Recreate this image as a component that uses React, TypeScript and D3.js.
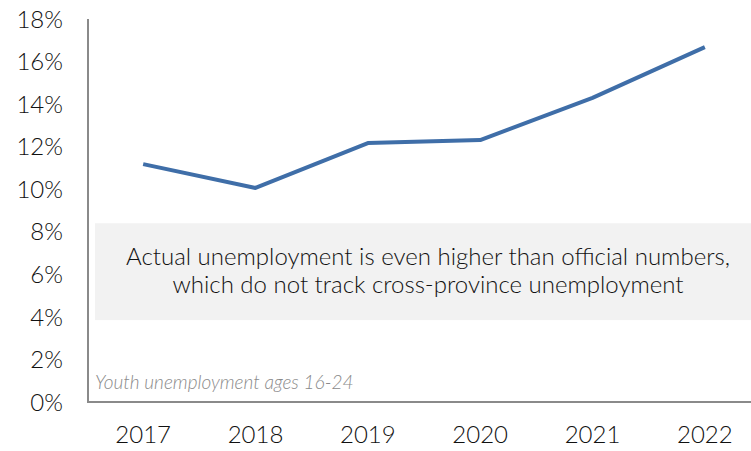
import React from "react";
import * as d3 from "d3";

const years = ["2017", "2018", "2019", "2020", "2021", "2022"];
const youthUnemployment = [11.18, 10.06, 12.17, 12.31, 14.29, 16.68];
const yTicks = [0, 2, 4, 6, 8, 10, 12, 14, 16, 18];
const noteLines = [
  "Actual unemployment is even higher than official numbers,",
  "which do not track cross-province unemployment",
];
const footnote = "Youth unemployment ages 16-24";

const W = 751;
const H = 451;
const FONT = "Lato, 'Open Sans', sans-serif";

export default function App() {
  const x = d3.scaleBand<string>().domain(years).range([87, 761]);
  const y = d3.scaleLinear().domain([0, 18]).range([402, 19]);
  const line = d3
    .line<number>()
    .x((_, i) => (x(years[i]) as number) + x.bandwidth() / 2)
    .y((d) => y(d));

  return (
    <div style={{ position: "fixed", left: 0, top: 0 }}>
      <svg width={W} height={H} style={{ display: "block", background: "#fff" }}>
        {/* note box */}
        <rect x={95} y={y(8.4)} width={761 - 95} height={y(3.85) - y(8.4)} fill="#f2f2f2" />
        {noteLines.map((t, i) => (
          <text
            key={i}
            x={(95 + 761) / 2}
            y={265 + i * 28}
            textAnchor="middle"
            fontFamily={FONT}
            fontWeight={300}
            fontSize={24}
            fill="#111"
          >
            {t}
          </text>
        ))}
        {/* axes */}
        <line x1={88} x2={88} y1={y(18)} y2={y(0)} stroke="#8a8a8a" strokeWidth={2} />
        <line x1={87} x2={W} y1={y(0)} y2={y(0)} stroke="#8a8a8a" strokeWidth={2} />
        {yTicks.map((t) => (
          <text
            key={t}
            x={63}
            y={y(t)}
            dy="0.36em"
            textAnchor="end"
            fontFamily={FONT}
            fontWeight={300}
            fontSize={24}
            fill="#111"
          >
            {t}%
          </text>
        ))}
        {years.map((yr) => (
          <text
            key={yr}
            x={(x(yr) as number) + x.bandwidth() / 2}
            y={443}
            textAnchor="middle"
            fontFamily={FONT}
            fontWeight={300}
            fontSize={24}
            fill="#111"
          >
            {yr}
          </text>
        ))}
        <text
          x={95}
          y={389}
          fontFamily={FONT}
          fontWeight={300}
          fontStyle="italic"
          fontSize={19}
          fill="#8a8a8a"
        >
          {footnote}
        </text>
        <path
          d={line(youthUnemployment) || ""}
          fill="none"
          stroke="#3f6ea8"
          strokeWidth={4}
          strokeLinejoin="round"
        />
      </svg>
    </div>
  );
}
